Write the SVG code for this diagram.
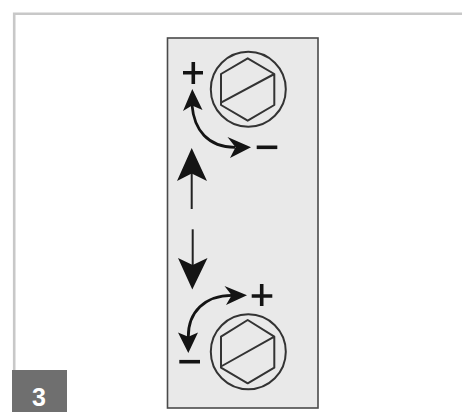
<svg xmlns="http://www.w3.org/2000/svg" width="462" height="412" viewBox="0 0 462 412">
<style>
.frame{fill:none;stroke:#c8c8c8;stroke-width:2.6}
.panel{fill:#e9e9e9;stroke:#4a4a4a;stroke-width:1.6}
.ring,.hex{fill:none;stroke:#333;stroke-width:2;stroke-linejoin:round}
.sign{fill:none;stroke:#141414;stroke-width:3.6}
.line{fill:none;stroke:#222;stroke-width:2}
.curve{fill:none;stroke:#141414;stroke-width:2.8}
.head{fill:#141414;stroke:none}
.badge{fill:#6f6f6f}
.num{font-family:"Liberation Sans",sans-serif;font-weight:700;font-size:25px;fill:#fff;text-anchor:middle}
</style>
<rect width="462" height="412" fill="#fff"/>
<g id="frame"><path class="frame" d="M14.200 370V13.800H462"/></g>
<g id="panel"><rect class="panel" x="167.500" y="38" width="150.500" height="370"/></g>
<g id="screw-top">
<circle class="ring" cx="248.300" cy="89.300" r="37.500"/>
<path class="hex" d="M247.700 58.300L274.300 74V105L247.700 120.700L221 105V74ZM221 102.700L274.300 74"/>
</g>
<g id="screw-bottom">
<circle class="ring" cx="248.300" cy="351.700" r="37.500"/>
<path class="hex" d="M247.700 320L274.300 336.700V367.700L247.700 383.300L221 367.700V336.700ZM221 366.500L274.300 336.700"/>
</g>
<g id="connectors">
<path class="curve" d="M192 105C194 130 208 147.300 235 147.300"/>
<path class="head" d="M192.300 89L202.500 110L192 105.500L183 111Z"/>
<path class="head" d="M251 147.300L227.500 137L235.500 147.300L230 158Z"/>
<path class="line" d="M191.700 170V209"/>
<path class="head" d="M191.700 148L207 181L191.700 173.500L177 181Z"/>
<path class="line" d="M192.700 229.300V266"/>
<path class="head" d="M192.300 289.500L207.500 258L192.700 265L178 258Z"/>
<path class="curve" d="M232 295.300C205 295.300 188 312 188.300 337"/>
<path class="head" d="M247 295.300L224.500 286L231.700 295.300L226 305Z"/>
<path class="head" d="M188.300 353L198 332.500L188.300 336.700L178 332.500Z"/>
</g>
<g id="sign-plus-top"><path class="sign" d="M183 72.700H203M193.300 62V84"/></g>
<g id="sign-minus-top"><path class="sign" d="M256.700 147.300H277.300"/></g>
<g id="sign-plus-bottom"><path class="sign" d="M251.700 296H272.300M261.700 284V306"/></g>
<g id="sign-minus-bottom"><path class="sign" d="M179.300 361.700H200"/></g>
<g id="badge">
<rect class="badge" x="12" y="370" width="55" height="42"/>
<text class="num" x="39" y="406">3</text>
</g>
</svg>
